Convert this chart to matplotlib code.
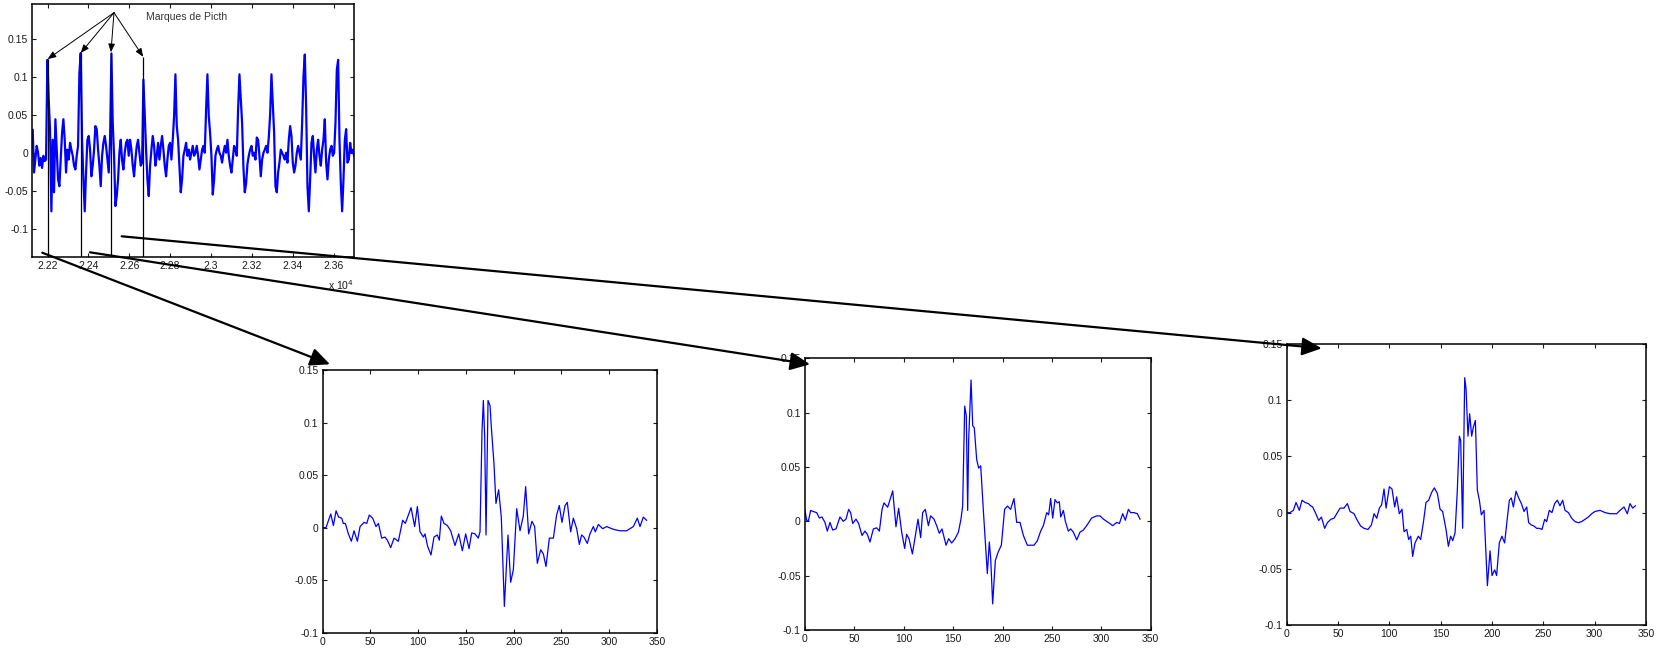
import numpy as np
import matplotlib
matplotlib.use('Agg')
from matplotlib import pyplot as plt
from matplotlib.patches import FancyArrowPatch

W, H = 1665, 650

# speech signal (one reading every ~6.5 samples)
top_start = 22127
top_step = 6.53
top_y = [0.030, -0.026, -0.009, 0.009, 0.000, -0.017, -0.007, -0.020, -0.004, -0.011,
         -0.009, 0.122, 0.070, 0.030, -0.077, 0.017, -0.052, 0.044, 0.004, -0.035,
         -0.044, -0.009, 0.026, 0.044, 0.017, -0.026, 0.004, -0.009, 0.013, 0.004,
         -0.004, -0.017, -0.022, -0.004, 0.009, 0.105, 0.131, 0.017, -0.035, -0.077,
         -0.026, 0.017, 0.022, 0.004, -0.031, -0.017, 0.004, 0.035, 0.031, 0.004,
         -0.017, -0.044, -0.004, 0.013, 0.022, 0.009, -0.009, -0.026, 0.017, 0.130,
         0.039, -0.004, -0.070, -0.057, -0.035, 0.000, 0.017, -0.010, -0.022, 0.000,
         0.013, 0.017, -0.004, 0.017, 0.004, -0.017, -0.031, -0.009, 0.009, 0.017,
         0.000, -0.017, -0.013, 0.096, 0.048, 0.004, -0.035, -0.057, -0.017, 0.004,
         0.022, 0.009, -0.017, -0.004, 0.013, -0.009, 0.009, 0.022, 0.004, -0.017,
         -0.031, -0.009, 0.009, 0.013, -0.009, 0.017, 0.048, 0.103, 0.035, 0.017,
         -0.017, -0.052, -0.035, -0.004, 0.004, 0.013, -0.004, 0.004, -0.009, 0.000,
         0.009, -0.004,
         0.000, 0.009, -0.004, -0.022, -0.009, 0.004, 0.009, 0.000, 0.057, 0.103,
         0.048, 0.026, -0.004, -0.055, -0.035, -0.004, 0.004, 0.009, 0.000, -0.004,
         -0.013, 0.000, 0.009, 0.000, 0.017, -0.004, -0.017, -0.026, -0.009, 0.009,
         0.004, -0.004, 0.057, 0.103, 0.070, 0.039, -0.020, -0.052, -0.040, -0.015,
         -0.004, 0.004, 0.009, -0.004, 0.000, -0.009, 0.020, 0.017, -0.004, -0.031,
         -0.009, 0.000, 0.004, 0.009, 0.000, 0.020, 0.050, 0.103, 0.066, 0.026,
         -0.044, -0.052, -0.026, -0.013, 0.004, 0.000, -0.004, -0.009, 0.000, -0.013,
         0.017, 0.035, 0.022, -0.013, -0.026, -0.017, 0.000, 0.009, 0.000, -0.009,
         0.039, 0.100, 0.129, 0.061, -0.044, -0.077, -0.035, 0.013, 0.022, -0.004,
         -0.026, 0.004, 0.017, -0.004, -0.017, 0.004, 0.017, 0.044, -0.013, -0.035,
         -0.009, 0.004, 0.009, -0.004, 0.000, 0.039, 0.109, 0.122, 0.017, -0.040,
         -0.077, -0.035, 0.017, 0.031, -0.013, -0.009, 0.013, 0.000, 0.004, -0.004]

# pitch marks (sample, height of the marker line)
pitch_x = [22200, 22362, 22510, 22668]
pitch_top = [0.123, 0.131, 0.132, 0.126]

# three extracted periods
seg1_x = [0, 3.5, 8.4, 11.2, 14.0, 16.7, 19.9, 21.6, 23.7, 26.9, 30.0, 32.8, 36.3, 39.1,
          43.3, 46.1, 48.8, 52.3, 55.8, 58.3, 61.8, 65.2, 67.7, 71.2, 74.7, 79.2, 83.7,
          86.5, 92.5, 96.3, 99.1, 101.9, 105.4, 107.1, 109.9, 113.4, 116.5, 120.0, 122.1,
          124.2, 127.0, 130.5, 134.0, 138.5, 142.4, 146.2, 149.7, 153.2, 156.0, 159.5,
          162.9, 164.7, 166.8, 168.2, 169.6, 171.0, 173.1, 175.2, 176.6, 179.3, 181.4,
          184.2, 187.0, 190.2, 194.0, 196.8, 199.6, 203.1, 206.6, 210.0, 212.5, 215.6,
          219.1, 221.9, 224.7, 228.2, 231.0, 233.8, 237.3, 241.5, 244.9, 247.7, 250.5,
          253.7, 256.1, 259.6, 262.4, 265.9, 268.7, 271.1, 273.5, 277.0, 279.8, 283.3,
          285.4, 288.6, 293.1, 297.3, 302.5, 306.0, 311.2, 318.2, 325.2, 329.4, 332.2,
          335.7, 339.1]
seg1_y = [0, 0, 0.013, 0.002, 0.016, 0.010, 0.009, 0.004, 0.004, -0.006, -0.013, -0.003,
          -0.013, 0.001, 0.005, 0.004, 0.012, 0.009, 0.001, 0.004, -0.010, -0.009, -0.012,
          -0.019, -0.010, -0.013, 0.007, 0.004, 0.019, 0.001, 0.020, -0.004, -0.009,
          -0.006, -0.018, -0.026, -0.009, -0.007, -0.012, 0.011, 0.004, 0.002, -0.003,
          -0.017, -0.006, -0.022, -0.006, -0.020, -0.005, -0.006, -0.010, -0.004, 0.092,
          0.121, 0.086, -0.007, 0.121, 0.116, 0.095, 0.061, 0.023, 0.036, 0.010, -0.075,
          -0.007, -0.052, -0.040, 0.018, -0.003, 0.011, 0.039, -0.006, 0.006, 0.001,
          -0.034, -0.021, -0.025, -0.037, -0.010, -0.010, 0.012, 0.021, 0.005, 0.021,
          0.024, -0.004, 0.009, -0.001, -0.016, -0.007, -0.009, -0.015, -0.006, 0.001,
          -0.004, 0.003, -0.001, 0.001, -0.001, -0.002, -0.003, -0.003, 0.001, 0.009,
          0.001, 0.010, 0.007]

seg2_x = [0, 1.7, 3.4, 5.7, 8.4, 11.8, 14.5, 17.2, 20.2, 22.6, 25.3, 28.0, 31.4, 35.4,
          38.8, 41.5, 44.2, 46.2, 48.3, 51.6, 54.3, 57.7, 60.7, 63.1, 65.8, 69.2, 72.6,
          75.3, 78.0, 80.0, 82.7, 83.7, 86.1, 88.8, 92.1, 94.8, 97.9, 100.9, 102.9, 105.3,
          108.7, 111.4, 114.4, 117.1, 119.1, 121.8, 124.9, 127.2, 130.6, 133.3, 136.0,
          138.7, 142.8, 145.5, 148.5, 151.9, 155.3, 157.9, 159.6, 161.7, 163.3, 164.7,
          165.7, 168.1, 169.8, 171.4, 173.8, 175.8, 177.9, 180.5, 184.6, 186.6, 188.0,
          190.0, 192.7, 195.7, 198.8, 202.1, 204.9, 208.2, 211.6, 214.3, 217.7, 221.1,
          225.1, 228.5, 231.9, 235.2, 238.6, 241.3, 244.7, 246.7, 248.7, 250.8, 253.1,
          255.5, 257.5, 258.9, 261.6, 263.6, 266.6, 269.0, 271.7, 275.1, 278.4, 281.8,
          285.2, 290.2, 295.3, 298.7, 302.1, 307.1, 311.5, 315.6, 318.3, 321.6, 324.3,
          327.4, 329.7, 333.1, 336.5, 339.2]
seg2_y = [0.010, 0.001, 0, 0.010, 0.009, 0.008, 0.003, 0.004, -0.001, -0.009, -0.001,
          -0.008, -0.007, 0.004, 0, 0.002, 0.011, 0.008, -0.002, 0.002, -0.002, -0.013,
          -0.009, -0.012, -0.019, -0.007, -0.006, -0.009, 0.011, 0.017, 0.014, 0.013,
          0.020, 0.028, -0.005, 0.012, -0.010, -0.025, -0.012, -0.016, -0.030, -0.015,
          0.002, -0.015, 0.008, 0.011, -0.004, 0.005, 0.002, -0.004, -0.011, -0.007,
          -0.022, -0.016, -0.020, -0.016, -0.010, 0.002, 0.014, 0.106, 0.097, 0.010,
          0.075, 0.130, 0.088, 0.086, 0.057, 0.049, 0.051, 0.011, -0.048, -0.019, -0.034,
          -0.076, -0.036, -0.028, -0.022, 0.011, 0.014, 0.011, 0.021, -0.001, -0.001,
          -0.013, -0.022, -0.022, -0.022, -0.018, -0.009, -0.004, 0.008, 0.006, 0.021,
          0.003, 0.020, 0.017, 0.018, 0.004, 0.010, 0.000, -0.009, -0.007, -0.010, -0.017,
          -0.010, -0.008, -0.004, 0.003, 0.005, 0.005, 0.002, -0.001, -0.004, -0.001,
          -0.002, 0.007, 0.001, 0.011, 0.008, 0.008, 0.007, 0.002]

seg3_x = [0.6, 3.2, 6.5, 9.1, 12.3, 14.9, 17.9, 21.1, 23.4, 25.3, 27.9, 31.2, 33.8, 37.0,
          39.6, 42.9, 46.1, 49.4, 52.0, 55.8, 59.1, 61.7, 65.6, 68.8, 72.1, 75.3, 79.2,
          82.5, 85.1, 87.7, 90.3, 92.5, 94.8, 96.8, 100.0, 102.6, 105.2, 107.1, 109.7,
          112.3, 114.3, 116.9, 118.8, 120.8, 122.7, 125.0, 128.2, 130.5, 133.1, 135.7,
          138.3, 141.2, 143.8, 146.8, 149.4, 151.9, 155.2, 157.5, 159.7, 161.7, 164.0,
          166.2, 168.2, 169.5, 171.4, 173.4, 174.7, 176.6, 178.2, 180.2, 181.8, 183.8,
          185.7, 187.7, 189.6, 192.2, 194.2, 195.5, 198.1, 200.0, 202.6, 204.5, 207.1,
          209.7, 212.3, 214.9, 216.9, 218.8, 220.8, 223.4, 226.0, 228.6, 231.2, 233.8,
          235.7, 238.3, 240.9, 243.5, 246.1, 248.7, 251.3, 253.2, 255.8, 258.4, 261.0,
          263.6, 266.2, 268.8, 271.1, 274.4, 277.6, 280.8, 284.1, 287.3, 290.6, 293.8,
          297.1, 300.3, 305.2, 310.1, 314.9, 321.4, 324.7, 328.6, 331.8, 334.4, 337.0,
          339.6]
seg3_y = [0, 0, 0.002, 0.009, 0.002, 0.011, 0.009, 0.008, 0.006, 0.005, 0, -0.007,
          -0.004, -0.014, -0.009, -0.006, -0.005, 0, 0.004, 0.004, 0.008, 0.001, -0.001,
          -0.007, -0.012, -0.014, -0.015, -0.011, -0.001, -0.005, 0.004, 0.007, 0.021,
          0.004, 0.023, 0.021, 0.005, 0.014, -0.001, 0.003, -0.017, -0.015, -0.024,
          -0.021, -0.039, -0.027, -0.021, -0.024, -0.009, 0.009, 0.011, 0.018, 0.022,
          0.017, 0.003, 0.001, -0.015, -0.030, -0.021, -0.025, -0.018, 0.020, 0.068,
          0.064, -0.014, 0.120, 0.110, 0.068, 0.088, 0.068, 0.076, 0.082, 0.020, 0.011,
          -0.002, 0.002, -0.039, -0.065, -0.034, -0.056, -0.051, -0.056, -0.027, -0.021,
          -0.027, -0.005, 0.011, 0.013, 0.005, 0.019, 0.013, 0.008, 0.001, 0.005, -0.009,
          -0.011, -0.012, -0.014, -0.014, -0.015, -0.006, -0.008, 0.002, 0, 0.008, 0.011,
          0.006, 0.011, 0.002, 0, -0.005, -0.008, -0.009, -0.008, -0.006, -0.004, -0.001,
          0.001, 0.002, 0, -0.001, -0.001, 0.002, 0.005, -0.001, 0.008, 0.004, 0.006]

FONT = 'Liberation Sans'
plt.rcParams['font.family'] = [FONT, 'DejaVu Sans']
plt.rcParams['font.size'] = 7.5


def px(x, y):
    return x / W, 1 - y / H


def box(ax):
    ax.tick_params(direction='in', top=True, right=True, length=3, width=0.8,
                   labelsize=7.5, pad=3, colors='#1a1a1a')
    for s in ax.spines.values():
        s.set_linewidth(1.1)


fig = plt.figure(figsize=(W / 100, H / 100), dpi=100, facecolor='white')

# top: whole signal
ax0 = fig.add_axes([32.3 / W, 1 - 257 / H, 321.7 / W, 252.7 / H])
top_x = top_start + top_step * np.arange(len(top_y))
ax0.plot(top_x, top_y, color='#0000ff', lw=1.6)
ax0.set_xlim(22125, 23700)
ax0.set_ylim(-0.137, 0.195)
ax0.set_xticks(np.arange(22200, 23700, 200))
ax0.set_xticklabels([f'{v / 1e4:g}' for v in np.arange(22200, 23700, 200)])
ax0.set_yticks([-0.1, -0.05, 0, 0.05, 0.1, 0.15])
ax0.set_yticklabels(['-0.1', '-0.05', '0', '0.05', '0.1', '0.15'])
box(ax0)
ax0.text(1.0, -0.085, 'x 10$^4$', transform=ax0.transAxes, ha='right', va='top',
         fontsize=7.5, color='#1a1a1a')
ax0.vlines(pitch_x, -0.137, pitch_top, color='black', lw=0.9)
for xm, ym in zip(pitch_x, pitch_top):
    ax0.annotate('', xy=(xm, ym), xytext=(22525, 0.184),
                 arrowprops=dict(arrowstyle='-|>,head_length=0.5,head_width=0.2',
                                 color='black', lw=0.7, shrinkA=0, shrinkB=0,
                                 mutation_scale=10))
ax0.text(22682, 0.1785, 'Marques de Picth', fontsize=7.5, color='#333333',
         va='center', ha='left')

# bottom: three pitch periods
boxes = [[322.7, 370, 657, 632.7], [805, 358.3, 1150.7, 630], [1286.7, 344, 1646, 625]]
segs = [(seg1_x, seg1_y), (seg2_x, seg2_y), (seg3_x, seg3_y)]
for (l, t, r, b), (sx, sy) in zip(boxes, segs):
    ax = fig.add_axes([l / W, 1 - b / H, (r - l) / W, (b - t) / H])
    ax.plot(sx, sy, color='#0000ff', lw=0.9)
    ax.set_xlim(0, 350)
    ax.set_ylim(-0.1, 0.15)
    ax.set_xticks(np.arange(0, 351, 50))
    ax.set_yticks([-0.1, -0.05, 0, 0.05, 0.1, 0.15])
    ax.set_yticklabels(['-0.1', '-0.05', '0', '0.05', '0.1', '0.15'])
    box(ax)

# big arrows from the marks to the zoomed periods
arrows = [((42.3, 252.7), (330, 364.3)),
          ((90, 252.3), (810, 364.3)),
          ((121.7, 236.3), (1321.7, 348.3))]
for a, b in arrows:
    fig.add_artist(FancyArrowPatch(px(*a), px(*b), transform=fig.transFigure,
                                   arrowstyle='-|>,head_length=12,head_width=5.5',
                                   mutation_scale=1, lw=1.6, color='black',
                                   shrinkA=0, shrinkB=0, zorder=5))

fig.savefig('out.png', dpi=100, facecolor='white')
